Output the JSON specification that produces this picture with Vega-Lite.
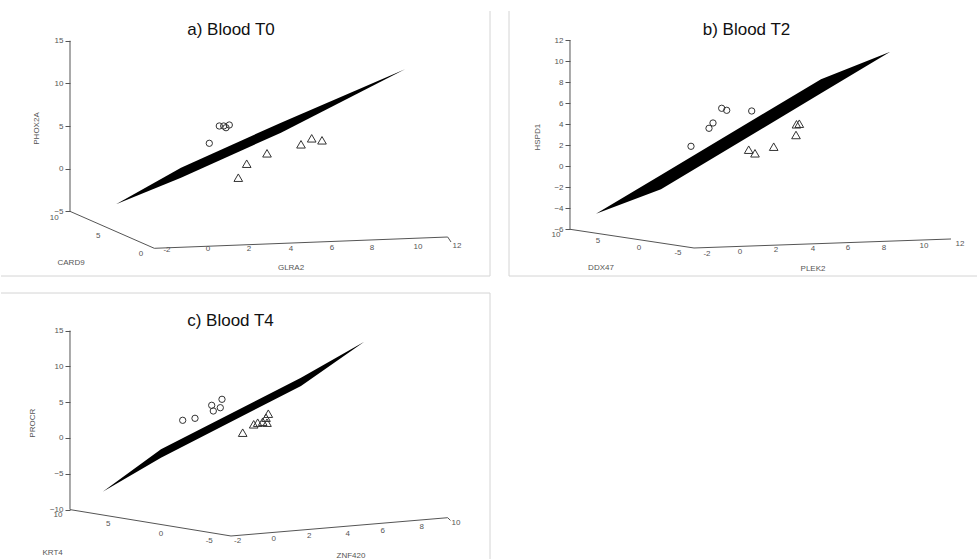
{
  "$schema": "https://vega.github.io/schema/vega-lite/v6.json",
  "padding": {"left": 0, "top": 10, "right": 0, "bottom": 0},
  "bounds": "flush",
  "columns": 2,
  "spacing": {"row": 17, "column": 19},
  "config": {"view": {"stroke": null}},
  "datasets": {
    "a_frame": [
      {"x": 13.756, "x2": 13.756, "y": -12.579, "y2": 18.488},
      {"x": -10.098, "x2": 13.756, "y": -12.579, "y2": -12.579}
    ],
    "a_axis": [
      {"x": -6.732, "y": 15, "o": 1},
      {"x": -6.732, "y": -5, "o": 2},
      {"x": -2.62, "y": -9.332, "o": 3},
      {"x": 11.693, "y": -8.007, "o": 4},
      {"x": 11.854, "y": -8.593, "o": 5}
    ],
    "a_band": [
      {"x": -4.488, "y": -4.174, "y2": -4.174},
      {"x": -1.317, "y": -1.055, "y2": 0.117},
      {"x": 3.561, "y": 4.22, "y2": 5.393},
      {"x": 9.61, "y": 11.653, "y2": 11.653}
    ],
    "a_pts": [
      {"x": 0.063, "y": 2.978, "g": "class 1"},
      {"x": 0.551, "y": 5.006, "g": "class 1"},
      {"x": 0.766, "y": 5.006, "g": "class 1"},
      {"x": 0.878, "y": 4.807, "g": "class 1"},
      {"x": 1.039, "y": 5.123, "g": "class 1"},
      {"x": 1.478, "y": -1.055, "g": "class 2"},
      {"x": 1.888, "y": 0.586, "g": "class 2"},
      {"x": 2.878, "y": 1.805, "g": "class 2"},
      {"x": 4.537, "y": 2.861, "g": "class 2"},
      {"x": 5.059, "y": 3.564, "g": "class 2"},
      {"x": 5.561, "y": 3.329, "g": "class 2"}
    ],
    "a_text": [
      {"x": -7.5, "y": -5.74, "t": "10"},
      {"x": -5.35, "y": -7.89, "t": "5"},
      {"x": -3.27, "y": -9.96, "t": "0"},
      {"x": -2.0, "y": -9.53, "t": "-2"},
      {"x": 0, "y": -9.47, "t": "0"},
      {"x": 2.0, "y": -9.41, "t": "2"},
      {"x": 4.05, "y": -9.36, "t": "4"},
      {"x": 6.05, "y": -9.3, "t": "6"},
      {"x": 8.0, "y": -9.24, "t": "8"},
      {"x": 10.24, "y": -9.18, "t": "10"},
      {"x": 12.15, "y": -9.06, "t": "12"},
      {"x": -6.68, "y": -11.09, "t": "CARD9"},
      {"x": 4.05, "y": -11.61, "t": "GLRA2"}
    ],
    "b_frame": [
      {"x": -12.873, "x2": -12.873, "y": -10.448, "y2": 14.79},
      {"x": -12.873, "x2": 13.039, "y": -10.448, "y2": -10.448}
    ],
    "b_axis": [
      {"x": -9.503, "y": 12, "o": 1},
      {"x": -9.503, "y": -6, "o": 2},
      {"x": -2.652, "y": -7.781, "o": 3},
      {"x": 11.547, "y": -6.924, "o": 4}
    ],
    "b_band": [
      {"x": -8.066, "y": -4.514, "y2": -4.514},
      {"x": -4.475, "y": -2.19, "y2": -0.819},
      {"x": 4.365, "y": 6.952, "y2": 8.286},
      {"x": 8.193, "y": 10.914, "y2": 10.914}
    ],
    "b_pts": [
      {"x": -2.818, "y": 1.905, "g": "class 1"},
      {"x": -1.823, "y": 3.619, "g": "class 1"},
      {"x": -1.602, "y": 4.124, "g": "class 1"},
      {"x": -1.122, "y": 5.524, "g": "class 1"},
      {"x": -0.845, "y": 5.333, "g": "class 1"},
      {"x": 0.536, "y": 5.267, "g": "class 1"},
      {"x": 0.37, "y": 1.581, "g": "class 2"},
      {"x": 0.718, "y": 1.238, "g": "class 2"},
      {"x": 1.751, "y": 1.867, "g": "class 2"},
      {"x": 2.983, "y": 2.981, "g": "class 2"},
      {"x": 3.011, "y": 4.0, "g": "class 2"},
      {"x": 3.166, "y": 4.057, "g": "class 2"}
    ],
    "b_text": [
      {"x": -10.276, "y": -6.543, "t": "10"},
      {"x": -7.956, "y": -7.114, "t": "5"},
      {"x": -5.691, "y": -7.781, "t": "0"},
      {"x": -3.536, "y": -8.257, "t": "-5"},
      {"x": -1.934, "y": -8.314, "t": "-2"},
      {"x": -0.11, "y": -8.124, "t": "0"},
      {"x": 1.878, "y": -7.933, "t": "2"},
      {"x": 3.923, "y": -7.838, "t": "4"},
      {"x": 5.856, "y": -7.743, "t": "6"},
      {"x": 7.845, "y": -7.743, "t": "8"},
      {"x": 10.055, "y": -7.552, "t": "10"},
      {"x": 12.044, "y": -7.362, "t": "12"},
      {"x": -7.79, "y": -9.686, "t": "DDX47"},
      {"x": 3.923, "y": -9.781, "t": "PLEK2"}
    ],
    "c_frame": [
      {"x": -15.019, "x2": 11.864, "y": 20.251, "y2": 20.251},
      {"x": 11.864, "x2": 11.864, "y": -17.039, "y2": 20.251}
    ],
    "c_axis": [
      {"x": -11.226, "y": 15, "o": 1},
      {"x": -11.226, "y": -10, "o": 2},
      {"x": -2.375, "y": -13.687, "o": 3},
      {"x": 9.538, "y": -11.131, "o": 4},
      {"x": 9.692, "y": -11.52, "o": 5}
    ],
    "c_band": [
      {"x": -9.428, "y": -7.5, "y2": -7.5},
      {"x": -6.223, "y": -2.751, "y2": -1.578},
      {"x": 1.473, "y": 7.263, "y2": 8.422},
      {"x": 4.953, "y": 13.45, "y2": 13.45}
    ],
    "c_pts": [
      {"x": -5.03, "y": 2.472, "g": "class 1"},
      {"x": -4.354, "y": 2.751, "g": "class 1"},
      {"x": -3.436, "y": 4.567, "g": "class 1"},
      {"x": -3.348, "y": 3.771, "g": "class 1"},
      {"x": -2.963, "y": 4.232, "g": "class 1"},
      {"x": -2.87, "y": 5.405, "g": "class 1"},
      {"x": -1.732, "y": 0.74, "g": "class 2"},
      {"x": -1.127, "y": 1.913, "g": "class 2"},
      {"x": -0.907, "y": 2.137, "g": "class 2"},
      {"x": -0.632, "y": 2.277, "g": "class 2"},
      {"x": -0.396, "y": 2.137, "g": "class 2"},
      {"x": -0.451, "y": 2.835, "g": "class 2"},
      {"x": -0.324, "y": 3.394, "g": "class 2"}
    ],
    "c_text": [
      {"x": -11.89, "y": -10.75, "t": "10"},
      {"x": -9.12, "y": -12.05, "t": "5"},
      {"x": -6.22, "y": -13.45, "t": "0"},
      {"x": -3.57, "y": -14.39, "t": "-5"},
      {"x": -2.007, "y": -14.39, "t": "-2"},
      {"x": -0.027, "y": -14.15, "t": "0"},
      {"x": 1.93, "y": -13.69, "t": "2"},
      {"x": 4.04, "y": -13.37, "t": "4"},
      {"x": 5.97, "y": -12.99, "t": "6"},
      {"x": 8.11, "y": -12.43, "t": "8"},
      {"x": 9.99, "y": -11.83, "t": "10"},
      {"x": -12.18, "y": -16.02, "t": "KRT4"},
      {"x": 4.22, "y": -16.48, "t": "ZNF420"}
    ]
  },
  "concat": [
    {
      "width": 489,
      "height": 265,
      "title": {"text": "a) Blood T0", "offset": -41, "dx": -14.5, "frame": "group", "baseline": "alphabetic", "fontSize": 17, "font": "Liberation Sans", "fontWeight": "normal", "color": "#111"},
      "encoding": {
        "x": {"field": "x", "type": "quantitative", "scale": {"domain": [-10.098, 13.756], "nice": false, "zero": false}, "axis": null},
        "y": {"field": "y", "type": "quantitative", "scale": {"domain": [-12.579, 18.488], "nice": false, "zero": false},
          "axis": {"values": [-5, 0, 5, 10, 15], "offset": -69, "domain": false, "grid": false, "tickSize": 5, "tickColor": "#555", "labelPadding": 2, "labelFontSize": 8, "labelColor": "#555", "labelFont": "Liberation Sans", "title": "PHOX2A", "titleFontSize": 8, "titleFontWeight": "normal", "titleColor": "#555", "titleFont": "Liberation Sans", "titleX": -34, "titleY": 117, "titleBaseline": "middle", "titleAngle": -90}}
      },
      "layer": [
        {"data": {"name": "a_frame"}, "mark": {"type": "rule", "color": "#d4d4d4", "strokeWidth": 1}, "encoding": {"x2": {"field": "x2"}, "y2": {"field": "y2"}}},
        {"data": {"name": "a_axis"}, "mark": {"type": "line", "color": "#555", "strokeWidth": 1}, "encoding": {"order": {"field": "o", "type": "quantitative"}}},
        {"data": {"name": "a_band"}, "mark": {"type": "area", "color": "#000", "opacity": 1}, "encoding": {"y2": {"field": "y2"}}},
        {"data": {"name": "a_pts"}, "mark": {"type": "point", "filled": false, "color": "#333", "strokeWidth": 1, "opacity": 1},
          "encoding": {"shape": {"field": "g", "type": "nominal", "scale": {"domain": ["class 1", "class 2"], "range": ["circle", "triangle-up"]}, "legend": null},
            "size": {"field": "g", "type": "ordinal", "scale": {"domain": ["class 1", "class 2"], "range": [40, 75]}, "legend": null}}},
        {"data": {"name": "a_text"}, "mark": {"type": "text", "fontSize": 8, "font": "Liberation Sans", "color": "#555"}, "encoding": {"text": {"field": "t"}}}
      ]
    },
    {
      "width": 469,
      "height": 265,
      "title": {"text": "b) Blood T2", "offset": -41, "dx": 3, "frame": "group", "baseline": "alphabetic", "fontSize": 17, "font": "Liberation Sans", "fontWeight": "normal", "color": "#111"},
      "encoding": {
        "x": {"field": "x", "type": "quantitative", "scale": {"domain": [-12.873, 13.039], "nice": false, "zero": false}, "axis": null},
        "y": {"field": "y", "type": "quantitative", "scale": {"domain": [-10.448, 14.79], "nice": false, "zero": false},
          "axis": {"values": [-6, -4, -2, 0, 2, 4, 6, 8, 10, 12], "offset": -61, "domain": false, "grid": false, "tickSize": 5, "tickColor": "#555", "labelPadding": 2, "labelFontSize": 8, "labelColor": "#555", "labelFont": "Liberation Sans", "title": "HSPD1", "titleFontSize": 8, "titleFontWeight": "normal", "titleColor": "#555", "titleFont": "Liberation Sans", "titleX": -32.3, "titleY": 125.7, "titleBaseline": "middle", "titleAngle": -90}}
      },
      "layer": [
        {"data": {"name": "b_frame"}, "mark": {"type": "rule", "color": "#d4d4d4", "strokeWidth": 1}, "encoding": {"x2": {"field": "x2"}, "y2": {"field": "y2"}}},
        {"data": {"name": "b_axis"}, "mark": {"type": "line", "color": "#555", "strokeWidth": 1}, "encoding": {"order": {"field": "o", "type": "quantitative"}}},
        {"data": {"name": "b_band"}, "mark": {"type": "area", "color": "#000", "opacity": 1}, "encoding": {"y2": {"field": "y2"}}},
        {"data": {"name": "b_pts"}, "mark": {"type": "point", "filled": false, "color": "#333", "strokeWidth": 1, "opacity": 1},
          "encoding": {"shape": {"field": "g", "type": "nominal", "scale": {"domain": ["class 1", "class 2"], "range": ["circle", "triangle-up"]}, "legend": null},
            "size": {"field": "g", "type": "ordinal", "scale": {"domain": ["class 1", "class 2"], "range": [40, 75]}, "legend": null}}},
        {"data": {"name": "b_text"}, "mark": {"type": "text", "fontSize": 8, "font": "Liberation Sans", "color": "#555"}, "encoding": {"text": {"field": "t"}}}
      ]
    },
    {
      "width": 489,
      "height": 267,
      "title": {"text": "c) Blood T4", "offset": -50, "dx": -15, "frame": "group", "baseline": "alphabetic", "fontSize": 17, "font": "Liberation Sans", "fontWeight": "normal", "color": "#111"},
      "encoding": {
        "x": {"field": "x", "type": "quantitative", "scale": {"domain": [-15.019, 11.864], "nice": false, "zero": false}, "axis": null},
        "y": {"field": "y", "type": "quantitative", "scale": {"domain": [-17.039, 20.251], "nice": false, "zero": false},
          "axis": {"values": [-10, -5, 0, 5, 10, 15], "offset": -69, "domain": false, "grid": false, "tickSize": 5, "tickColor": "#555", "labelPadding": 2, "labelFontSize": 8, "labelColor": "#555", "labelFont": "Liberation Sans", "title": "PROCR", "titleFontSize": 8, "titleFontWeight": "normal", "titleColor": "#555", "titleFont": "Liberation Sans", "titleX": -38, "titleY": 129.7, "titleBaseline": "middle", "titleAngle": -90}}
      },
      "layer": [
        {"data": {"name": "c_frame"}, "mark": {"type": "rule", "color": "#d4d4d4", "strokeWidth": 1}, "encoding": {"x2": {"field": "x2"}, "y2": {"field": "y2"}}},
        {"data": {"name": "c_axis"}, "mark": {"type": "line", "color": "#555", "strokeWidth": 1}, "encoding": {"order": {"field": "o", "type": "quantitative"}}},
        {"data": {"name": "c_band"}, "mark": {"type": "area", "color": "#000", "opacity": 1}, "encoding": {"y2": {"field": "y2"}}},
        {"data": {"name": "c_pts"}, "mark": {"type": "point", "filled": false, "color": "#333", "strokeWidth": 1, "opacity": 1},
          "encoding": {"shape": {"field": "g", "type": "nominal", "scale": {"domain": ["class 1", "class 2"], "range": ["circle", "triangle-up"]}, "legend": null},
            "size": {"field": "g", "type": "ordinal", "scale": {"domain": ["class 1", "class 2"], "range": [40, 75]}, "legend": null}}},
        {"data": {"name": "c_text"}, "mark": {"type": "text", "fontSize": 8, "font": "Liberation Sans", "color": "#555"}, "encoding": {"text": {"field": "t"}}}
      ]
    }
  ]
}
